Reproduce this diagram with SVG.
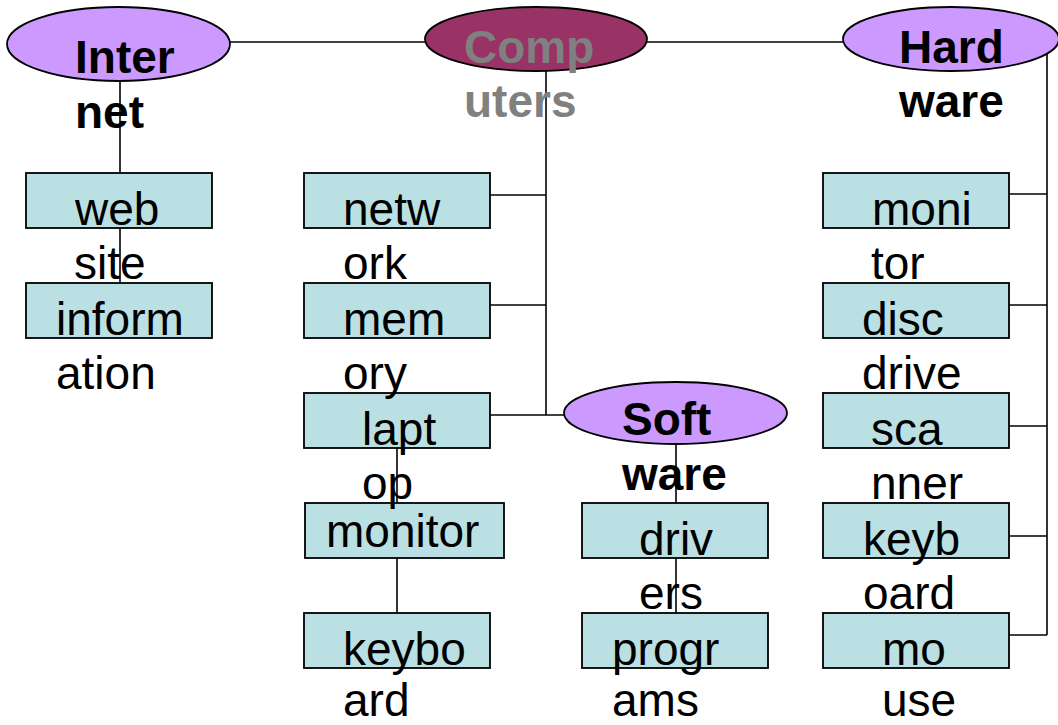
<svg xmlns="http://www.w3.org/2000/svg" width="1058" height="725" viewBox="0 0 1058 725">
<style>
.conn{stroke:#000;stroke-width:1.6;fill:none}
.box{fill:#BBE0E3;stroke:#000;stroke-width:1.8}
.ell{fill:#CC99FF;stroke:#000;stroke-width:1.8}
.ellc{fill:#993366;stroke:#000;stroke-width:1.8}
.t{font-family:"Liberation Sans",Arial,sans-serif;font-size:46px;fill:#000}
.b{font-family:"Liberation Sans",Arial,sans-serif;font-size:46px;font-weight:bold;fill:#000}
.g{fill:#808080}
</style>
<rect width="1058" height="725" fill="#fff"/>
<g id="connectors">
<line class="conn" x1="118" y1="42" x2="1000" y2="42"/>
<line class="conn" x1="120" y1="78" x2="120" y2="300"/>
<line class="conn" x1="546" y1="65" x2="546" y2="415"/>
<line class="conn" x1="490" y1="195" x2="546" y2="195"/>
<line class="conn" x1="490" y1="305" x2="546" y2="305"/>
<line class="conn" x1="490" y1="415" x2="600" y2="415"/>
<line class="conn" x1="397" y1="440" x2="397" y2="630"/>
<line class="conn" x1="676" y1="430" x2="676" y2="630"/>
<line class="conn" x1="1047" y1="40" x2="1047" y2="635"/>
<line class="conn" x1="1009" y1="194" x2="1047" y2="194"/>
<line class="conn" x1="1009" y1="305" x2="1047" y2="305"/>
<line class="conn" x1="1009" y1="426" x2="1047" y2="426"/>
<line class="conn" x1="1009" y1="536" x2="1047" y2="536"/>
<line class="conn" x1="1009" y1="635" x2="1047" y2="635"/>
</g>
<g id="mouse"><rect class="box" x="823" y="613" width="186" height="55"/><text class="t" x="882" y="665">mo</text><text class="t" x="882" y="716">use</text></g>
<g id="keyboard-hw"><rect class="box" x="823" y="503" width="186" height="55"/><text class="t" x="863" y="555">keyb</text><text class="t" x="863" y="609">oard</text></g>
<g id="scanner"><rect class="box" x="823" y="393" width="186" height="55"/><text class="t" x="871" y="445">sca</text><text class="t" x="871" y="499">nner</text></g>
<g id="disc-drive"><rect class="box" x="823" y="283" width="186" height="55"/><text class="t" x="862" y="335">disc</text><text class="t" x="862" y="389">drive</text></g>
<g id="monitor-hw"><rect class="box" x="823" y="173" width="186" height="55"/><text class="t" x="872" y="225">moni</text><text class="t" x="871" y="279">tor</text></g>
<g id="programs"><rect class="box" x="582" y="613" width="186" height="55"/><text class="t" x="612" y="665">progr</text><text class="t" x="612" y="716">ams</text></g>
<g id="drivers"><rect class="box" x="582" y="503" width="186" height="55"/><text class="t" x="639" y="555">driv</text><text class="t" x="639" y="609">ers</text></g>
<g id="software"><ellipse class="ell" cx="675.5" cy="413" rx="111.5" ry="31"/><text class="b" x="622" y="435">Soft</text><text class="b" x="622" y="490">ware</text></g>
<g id="keyboard"><rect class="box" x="304" y="613" width="186" height="55"/><text class="t" x="343" y="665">keybo</text><text class="t" x="343" y="716">ard</text></g>
<g id="monitor"><rect class="box" x="305" y="503" width="199" height="55"/><text class="t" x="326" y="547">monitor</text></g>
<g id="laptop"><rect class="box" x="304" y="393" width="186" height="55"/><text class="t" x="362" y="445">lapt</text><text class="t" x="362" y="499">op</text></g>
<g id="memory"><rect class="box" x="304" y="283" width="186" height="55"/><text class="t" x="343" y="335">mem</text><text class="t" x="343" y="389">ory</text></g>
<g id="network"><rect class="box" x="304" y="173" width="186" height="55"/><text class="t" x="343" y="225">netw</text><text class="t" x="343" y="279">ork</text></g>
<g id="information"><rect class="box" x="26" y="283" width="186" height="55"/><text class="t" x="56" y="335">inform</text><text class="t" x="56" y="389">ation</text></g>
<g id="website"><rect class="box" x="26" y="173" width="186" height="55"/><text class="t" x="75" y="225">web</text><text class="t" x="74" y="279">site</text></g>
<g id="hardware"><ellipse class="ell" cx="951" cy="39" rx="108" ry="32"/><text class="b" x="899" y="63">Hard</text><text class="b" x="899" y="117">ware</text></g>
<g id="computers"><ellipse class="ellc" cx="536" cy="39" rx="111" ry="32"/><text class="b g" x="464" y="63">Comp</text><text class="b g" x="464" y="117">uters</text></g>
<g id="internet"><ellipse class="ell" cx="118.5" cy="44" rx="111.5" ry="37"/><text class="b" x="75" y="73">Inter</text><text class="b" x="75" y="128">net</text></g>
</svg>
